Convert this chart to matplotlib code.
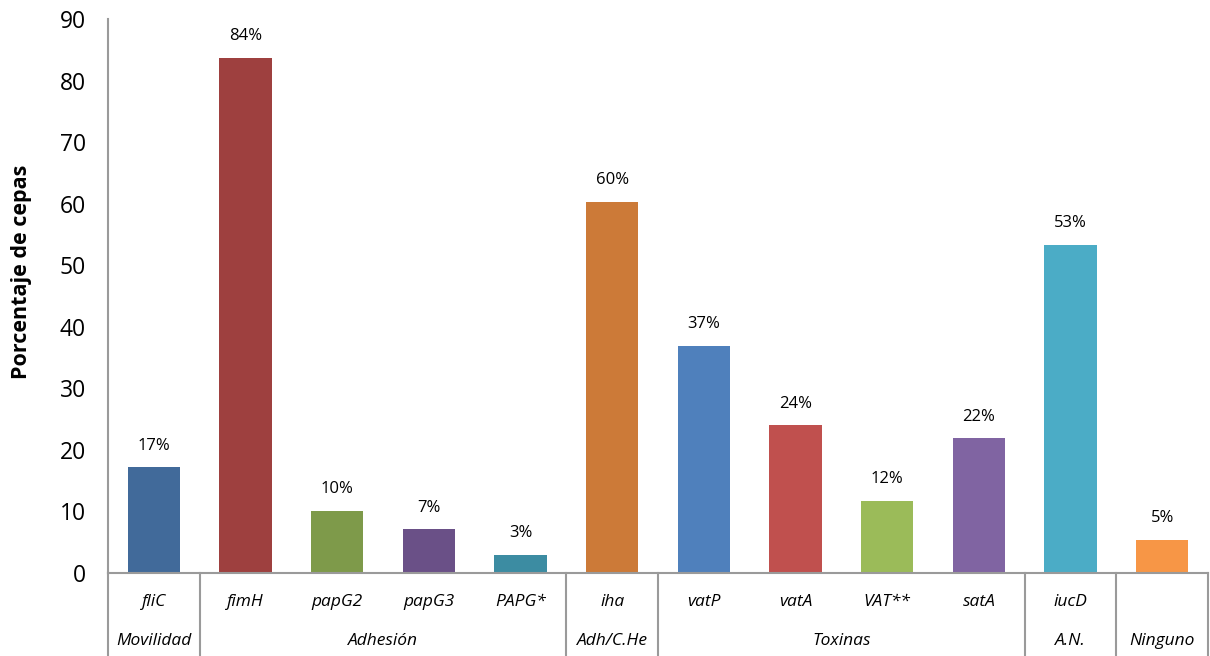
import matplotlib.pyplot as plt
from matplotlib.transforms import blended_transform_factory

# Genes / virulence factors and their prevalence (% of strains)
genes = ["fliC", "fimH", "papG2", "papG3", "PAPG*", "iha",
         "vatP", "vatA", "VAT**", "satA", "iucD", ""]
values = [17.2, 83.7, 10.1, 7.1, 3.0, 60.3, 36.9, 24.0, 11.7, 21.9, 53.3, 5.4]
labels = ["17%", "84%", "10%", "7%", "3%", "60%", "37%", "24%", "12%", "22%", "53%", "5%"]
colors = ["#416A9A", "#9E403F", "#7E9A4A", "#6A5087", "#3C8CA2", "#CC7A38",
          "#4F80BC", "#C0504E", "#9BBB59", "#8064A2", "#4BACC6", "#F79646"]

# Functional groups: (name, first index, last index)
group_names = ["Movilidad", "Adhesión", "Adh/C.He", "Toxinas", "A.N.", "Ninguno"]
group_start = [0, 1, 5, 6, 10, 11]
group_end = [0, 4, 5, 9, 10, 11]

plt.rcParams['font.family'] = ['Open Sans', 'DejaVu Sans']
AXIS_GREY = "#9A9A9A"

fig = plt.figure(figsize=(12.1, 6.56), dpi=100)
ax = fig.add_axes([108 / 1210, 83 / 656, 1100 / 1210, 554 / 656])

x = range(len(values))
ax.bar(x, values, width=0.57, color=colors, zorder=2)
for xi, v, lab in zip(x, values, labels):
    ax.text(xi, v + 2.2, lab, ha="center", va="bottom", fontsize=12)

ax.set_xlim(-0.5, len(values) - 0.5)
ax.set_ylim(0, 90)
ax.set_yticks(range(0, 91, 10))
ax.tick_params(axis="y", length=0, labelsize=16.5, pad=16)
ax.tick_params(axis="x", length=0, labelbottom=False)
ax.set_ylabel("Porcentaje de cepas", fontsize=15.5, fontweight="bold")
ax.yaxis.set_label_coords(-0.069, 0.543)

for side in ["top", "right"]:
    ax.spines[side].set_visible(False)
for side in ["left", "bottom"]:
    ax.spines[side].set_color(AXIS_GREY)
    ax.spines[side].set_linewidth(1.5)

# Two-level category table under the axis
trans = blended_transform_factory(ax.transData, ax.transAxes)
row_h = 83 / 554
for xi, g in zip(x, genes):
    ax.text(xi, -0.052, g, transform=trans, ha="center", va="center",
            fontsize=12.5, style="italic")
for name, s, e in zip(group_names, group_start, group_end):
    ax.text((s + e) / 2, -0.123, name, transform=trans, ha="center", va="center",
            fontsize=12.5, style="italic")
bounds = [-0.5] + [e + 0.5 for e in group_end]
for b in bounds:
    ax.plot([b, b], [0, -row_h], transform=trans, color=AXIS_GREY,
            lw=1.5, clip_on=False)

fig.savefig("out.png", dpi=100, facecolor="white")
